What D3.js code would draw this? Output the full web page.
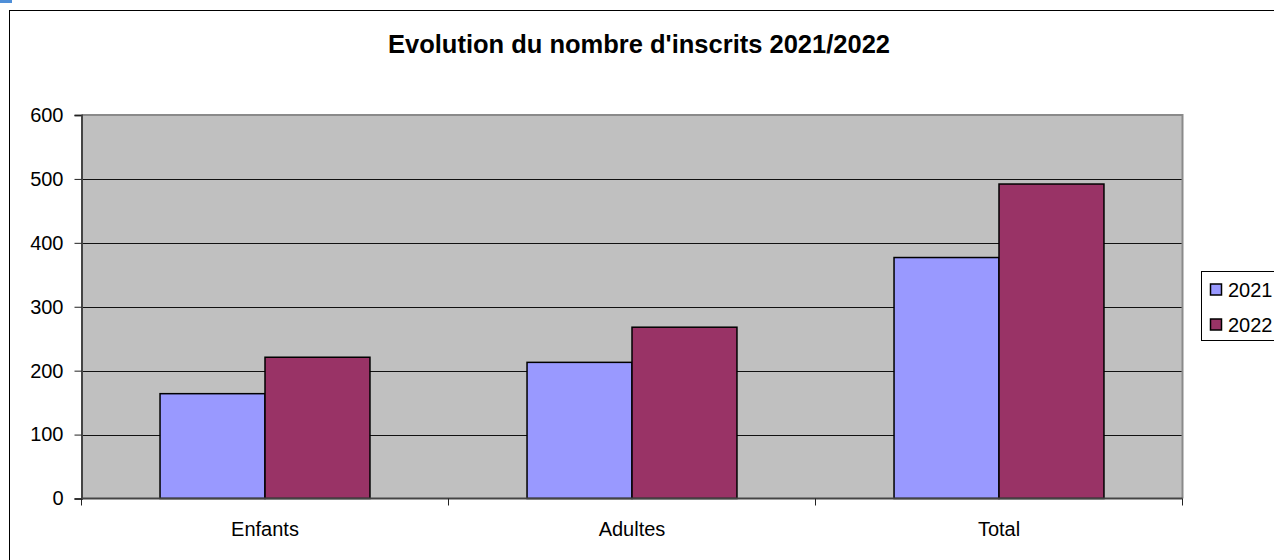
<!DOCTYPE html>
<html>
<head>
<meta charset="utf-8">
<script src="https://cdn.jsdelivr.net/npm/d3@7"></script>
<style>
  html, body { margin: 0; padding: 0; background: #fff; }
  svg { display: block; font-family: "Liberation Sans", Arial, sans-serif; }
</style>
</head>
<body>
<svg id="chart" width="1274" height="560"></svg>
<script>
const categories = ["Enfants", "Adultes", "Total"];
const years = ["2021", "2022"];
const values2021 = [164, 213, 377];
const values2022 = [221, 268, 492];
const yTicks = [0, 100, 200, 300, 400, 500, 600];
const colors = { "2021": "#9999FF", "2022": "#993366" };
const title = "Evolution du nombre d'inscrits 2021/2022";

const seriesValues = { "2021": values2021, "2022": values2022 };

const svg = d3.select("#chart");

// selection marker at top-left
svg.append("rect").attr("x", 0).attr("y", 0).attr("width", 12).attr("height", 3).attr("fill", "#4f8fd8");

// outer chart border
svg.append("rect").attr("x", 9.5).attr("y", 10.5).attr("width", 1400).attr("height", 800)
  .attr("fill", "#fff").attr("stroke", "#000").attr("stroke-width", 1);

const plot = { left: 81.5, right: 1182.5, top: 115, bottom: 498.5 };

const x0 = d3.scaleBand().domain(categories).range([plot.left, plot.right]).paddingInner(0).paddingOuter(0);
const bw = x0.bandwidth();
const x1 = d3.scaleBand().domain(years).range([bw * 0.214, bw * 0.786]);
const y = d3.scaleLinear().domain([0, 600]).range([plot.bottom, plot.top]);

// plot area
svg.append("rect").attr("x", plot.left).attr("y", plot.top)
  .attr("width", plot.right - plot.left).attr("height", plot.bottom - plot.top)
  .attr("fill", "#C0C0C0");

// gridlines
svg.append("g").selectAll("line").data(yTicks.filter(t => t > 0 && t < 600)).join("line")
  .attr("x1", plot.left).attr("x2", plot.right)
  .attr("y1", d => Math.round(y(d)) + 0.5).attr("y2", d => Math.round(y(d)) + 0.5)
  .attr("stroke", "#111").attr("stroke-width", 1);

// plot border (top/right gray)
svg.append("path")
  .attr("d", `M${plot.left},${plot.top} H${plot.right} V${plot.bottom}`)
  .attr("fill", "none").attr("stroke", "#8a8a8a").attr("stroke-width", 2);

// bars
const groups = svg.append("g").selectAll("g").data(categories).join("g")
  .attr("transform", d => `translate(${x0(d)},0)`);
groups.selectAll("rect").data((c, i) => years.map(yr => ({ yr, v: seriesValues[yr][i] }))).join("rect")
  .attr("x", d => x1(d.yr))
  .attr("width", x1.bandwidth())
  .attr("y", d => y(d.v))
  .attr("height", d => y(0) - y(d.v))
  .attr("fill", d => colors[d.yr])
  .attr("stroke", "#000").attr("stroke-width", 1.5);

// y axis
const yAxis = d3.axisLeft(y).tickValues(yTicks).tickSize(7).tickPadding(11).tickFormat(d3.format("d"));
const gy = svg.append("g").attr("transform", `translate(${plot.left},0)`).call(yAxis);
gy.attr("font-size", 20).attr("font-family", "Liberation Sans, Arial, sans-serif");
gy.select(".domain").attr("stroke", "#444").attr("stroke-width", 2);
gy.selectAll(".tick line").attr("stroke", "#222");
gy.selectAll("text").attr("font-size", 20).attr("fill", "#000");

// x axis baseline and ticks at category boundaries
svg.append("line").attr("x1", plot.left).attr("x2", plot.right)
  .attr("y1", plot.bottom).attr("y2", plot.bottom).attr("stroke", "#444").attr("stroke-width", 2);
const boundaries = categories.map(c => x0(c)).concat([x0(categories[categories.length - 1]) + bw]);
svg.append("g").selectAll("line").data(boundaries).join("line")
  .attr("x1", d => d).attr("x2", d => d)
  .attr("y1", plot.bottom).attr("y2", plot.bottom + 7)
  .attr("stroke", "#222").attr("stroke-width", 1);
svg.append("g").selectAll("text").data(categories).join("text")
  .attr("x", d => x0(d) + bw / 2).attr("y", 536)
  .attr("text-anchor", "middle").attr("font-size", 20).attr("fill", "#000")
  .text(d => d);

// title
svg.append("text").attr("x", 639).attr("y", 53)
  .attr("text-anchor", "middle").attr("font-size", 25.5).attr("font-weight", "bold")
  .attr("fill", "#000").text(title);

// legend
const lg = svg.append("g").attr("transform", "translate(1201.5,271.5)");
lg.append("rect").attr("x", 0).attr("y", 0).attr("width", 120).attr("height", 69)
  .attr("fill", "#fff").attr("stroke", "#000").attr("stroke-width", 1);
const items = lg.selectAll("g.item").data(years).join("g").attr("class", "item")
  .attr("transform", (d, i) => `translate(0,${i * 35})`);
items.append("rect").attr("x", 9).attr("y", 12.5).attr("width", 11).attr("height", 11)
  .attr("fill", d => colors[d]).attr("stroke", "#000").attr("stroke-width", 1.5);
items.append("text").attr("x", 26.5).attr("y", 25.5).attr("font-size", 20).attr("fill", "#000")
  .text(d => d);
</script>
</body>
</html>
